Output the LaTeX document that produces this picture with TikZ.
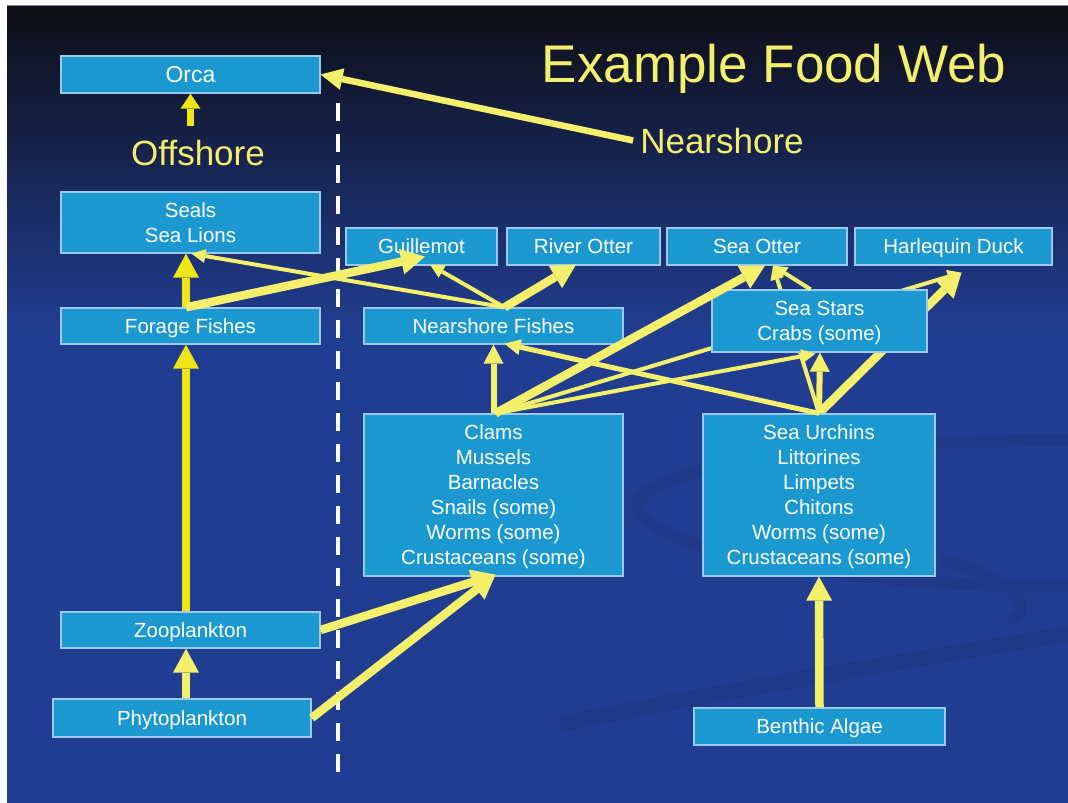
\documentclass[tikz,border=0pt]{standalone}
\usepackage{fontspec}
\setmainfont{Liberation Sans}
\usetikzlibrary{arrows.meta}
\definecolor{boxfill}{HTML}{1B98CF}
\definecolor{boxline}{HTML}{9CC9EE}
\definecolor{paleY}{HTML}{F5F06C}
\definecolor{brightY}{HTML}{F0E614}
\definecolor{bgTop}{HTML}{0E0E16}
\definecolor{bgMid}{HTML}{1A2563}
\definecolor{bgBot}{HTML}{213D91}
\definecolor{swirlc}{HTML}{1F3887}
\pgfdeclarelayer{behind}
\pgfsetlayers{behind,main}
\begin{document}
\begin{tikzpicture}[x=1pt,y=-1pt,
  box/.style={draw=boxline, fill=boxfill, line width=1.3pt, text=white, inner sep=0pt, align=center, text depth=0pt, font=\fontsize{20.5}{25}\selectfont},
  lbl/.style={text=paleY, inner sep=0pt, anchor=base, font=\fontsize{35}{40}\selectfont},
  bigarr/.style={draw=paleY, line width=8.5pt, -{Triangle[width=26pt,length=24pt,line width=0pt]}},
  medarr/.style={draw=paleY, line width=6pt, -{Triangle[width=20pt,length=19pt,line width=0pt]}},
  smallarr/.style={draw=brightY, line width=7pt, -{Triangle[width=20pt,length=15pt,line width=0pt]}},
  thinarr/.style={draw=paleY, line width=4pt, -{Triangle[width=14pt,length=14pt,line width=0pt]}},
  urchline/.style={draw=paleY, line width=5pt, -{Triangle[width=16pt,length=16pt,line width=0pt]}},
]
\useasboundingbox (0,0) rectangle (1068,803);

% nodes
\node[box, minimum width=259pt, minimum height=37pt, font=\fontsize{23}{27}\selectfont] (orca) at (190.5,74.5) {Orca};
\node[box, minimum width=259pt, minimum height=61pt] (seals) at (190.5,222.5) {Seals\\Sea Lions};
\node[box, minimum width=259pt, minimum height=36pt] (forage) at (190.5,326) {Forage Fishes};
\node[box, minimum width=259pt, minimum height=36pt] (zoo) at (190.5,630) {Zooplankton};
\node[box, minimum width=258pt, minimum height=38pt] (phyto) at (182,718) {Phytoplankton};
\node[box, minimum width=151pt, minimum height=37pt] (guil) at (421.5,246.5) {Guillemot};
\node[box, minimum width=153pt, minimum height=37pt] (river) at (583.5,246.5) {River Otter};
\node[box, minimum width=180pt, minimum height=37pt] (seaotter) at (757,246.5) {Sea Otter};
\node[box, minimum width=197pt, minimum height=37pt] (harl) at (953.5,246.5) {Harlequin Duck};
\node[box, minimum width=259pt, minimum height=36pt] (nf) at (493.5,326) {Nearshore Fishes};
\node[box, minimum width=215pt, minimum height=62pt] (stars) at (819.5,321) {Sea Stars\\Crabs (some)};
\node[box, minimum width=259pt, minimum height=162pt] (clams) at (493.5,495) {Clams\\Mussels\\Barnacles\\Snails (some)\\Worms (some)\\Crustaceans (some)};
\node[box, minimum width=232pt, minimum height=162pt] (urchins) at (819,495) {Sea Urchins\\Littorines\\Limpets\\Chitons\\Worms (some)\\Crustaceans (some)};
\node[box, minimum width=251pt, minimum height=37pt] (benthic) at (819.5,726.5) {Benthic Algae};

\node[text=paleY, inner sep=0pt, anchor=base, font=\fontsize{53}{60}\selectfont] (title) at (774,82) {Example Food Web};
\node[lbl, inner xsep=0pt, inner ysep=13pt] (offshore) at (198,165) {Offshore};
\node[lbl, inner xsep=7pt, inner ysep=0pt] (nearshore) at (722,153) {Nearshore};

\begin{pgfonlayer}{behind}
  \fill[white] (0,0) rectangle (1068,803);
  \shade[top color=bgTop, middle color=bgMid, bottom color=bgBot] (7,5) rectangle (1068,331);
  \fill[bgBot] (7,330) rectangle (1068,803);
  \draw[gray, line width=1.5pt] (7,5.5) -- (1068,5.5);
  % faint swirls
  \draw[swirlc, line width=12pt] (1068,440) .. controls (820,440) and (632,470) .. (638,508) .. controls (645,550) and (860,590) .. (1068,585);
  \draw[swirlc, line width=12pt] (940,560) .. controls (1000,575) and (1040,600) .. (1010,622);
  \draw[swirlc, line width=16pt] (560,724) .. controls (760,684) and (950,654) .. (1068,634);
  % dashed divider
  \draw[white, line width=4pt, dash pattern=on 18pt off 13pt] (338,103) -- (338,776);
  % connectors passing behind the Sea Stars box
  \draw[thinarr] ([xshift=2pt]clams.north) -- ([xshift=8pt,yshift=-7pt]harl.south);
  \draw[bigarr] (urchins.north) -- ([xshift=8pt,yshift=-7pt]harl.south);
  \draw[thinarr] (urchins.north) -- ([xshift=16pt]seaotter.south);
\end{pgfonlayer}

% connectors
\draw[smallarr] (offshore.north -| orca.south) -- (orca.south);
\draw[draw=paleY, line width=6.5pt, -{Triangle[width=22pt,length=22pt,line width=0pt]}] (nearshore.west) -- (orca.east);
\draw[bigarr] ([xshift=4pt]phyto.north) -- ([xshift=-4.5pt]zoo.south);
\draw[bigarr, draw=brightY] ([xshift=-4.5pt]zoo.north) -- ([xshift=-4.5pt]forage.south);
\draw[bigarr, draw=brightY] ([xshift=-4.5pt]forage.north) -- ([xshift=-4.5pt]seals.south);
\draw[bigarr] ([xshift=-4.5pt]forage.north) -- ([xshift=3.5pt,yshift=9pt]guil.south);
\draw[thinarr] ([xshift=11pt]nf.north) -- ([xshift=1pt]seals.south);
\draw[thinarr] ([xshift=11pt]nf.north) -- ([xshift=8.5pt,yshift=1pt]guil.south);
\draw[bigarr] ([xshift=11pt]nf.north) -- ([xshift=-7.5pt,yshift=1pt]river.south);
\draw[bigarr] (zoo.east) -- ([xshift=2pt,yshift=2pt]clams.south);
\draw[bigarr] (phyto.east) -- ([xshift=2pt,yshift=2pt]clams.south);
\draw[medarr] (clams.north) -- (nf.south);
\draw[bigarr] ([xshift=2pt]clams.north) -- ([xshift=8pt]seaotter.south);
\draw[thinarr] ([xshift=2pt]clams.north) -- ([xshift=-4pt,yshift=-1pt]stars.south);
\draw[urchline] (urchins.north) -- ([xshift=11pt,yshift=1pt]nf.south);
\draw[medarr] (urchins.north) -- ([xshift=0.5pt]stars.south);
\draw[thinarr] ([xshift=-9pt]stars.north) -- ([xshift=16pt]seaotter.south);
\draw[bigarr] (benthic.north) -- (urchins.south);
\end{tikzpicture}
\end{document}
